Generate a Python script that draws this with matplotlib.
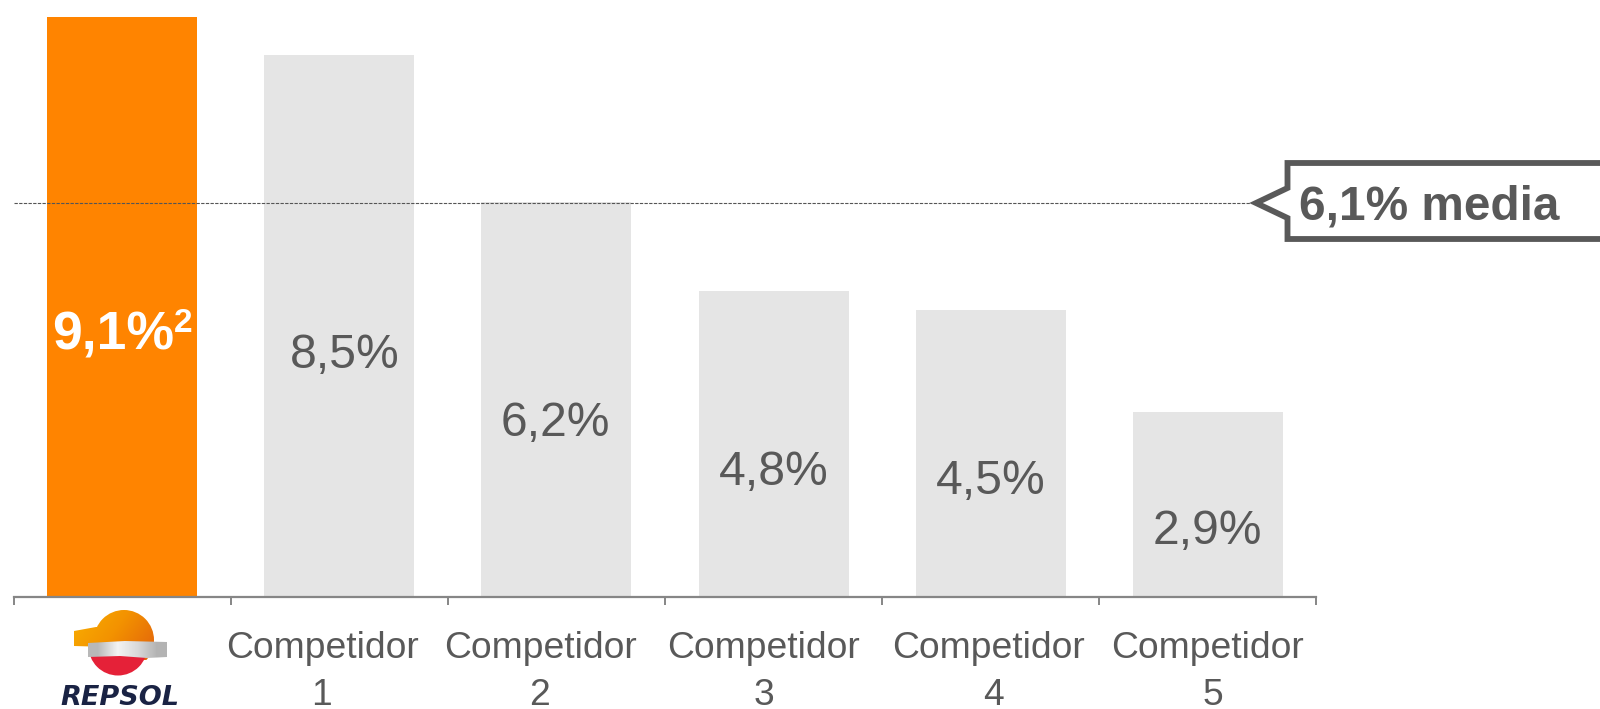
import matplotlib
matplotlib.use('Agg')
import matplotlib.pyplot as plt
import numpy as np
from matplotlib.patches import Circle, Polygon

plt.rcParams['font.family'] = ['Liberation Sans', 'DejaVu Sans']

cat_names = ['', 'Competidor', 'Competidor', 'Competidor', 'Competidor', 'Competidor']
cat_numbers = ['', '1', '2', '3', '4', '5']
values = [9.1, 8.5, 6.2, 4.8, 4.5, 2.9]
value_labels = ['9,1%', '8,5%', '6,2%', '4,8%', '4,5%', '2,9%']
footnote = '2'
mean_value = 6.18
mean_label = '6,1% media'

# small nudges in pixels, the labels are not centred in the original
label_dx = [0, 6, -1, 0, 0, -1]
label_dy = [-28, -29, -24, -28, -28, -27]
name_dx = [0, -17, -16, -10, -2, 0]
num_dx = [0, -18, -17, -10, 3, 5]

GREY = '#595959'
W, H = 1600, 709
px = 0.72  # pixels to points at dpi 100

fig = plt.figure(figsize=(16, 7.09), dpi=100)

# axes box set so that the bars land on the same pixels as the original
x0, x1, y0, y1 = 13.5, 1316.5, 597, 17
ax = fig.add_axes([x0/W, 1-y0/H, (x1-x0)/W, (y0-y1)/H])
x = np.arange(len(values))
colors = ['#FF8400'] + ['#E5E5E5']*5
ax.bar(x, values, width=0.69, color=colors, zorder=1)
ax.set_xlim(-0.5, 5.5)
ax.set_ylim(0, 9.1)
ax.patch.set_alpha(0)
for s in ['top', 'left', 'right']:
    ax.spines[s].set_visible(False)
ax.spines['bottom'].set_color('#868686')
ax.spines['bottom'].set_linewidth(1.6)
ax.set_yticks([])
ax.set_xticks(np.arange(-0.5, 6, 1))
ax.set_xticklabels([])
ax.tick_params(axis='x', length=6, width=1.4, color='#868686')

ax.plot([-0.5, 5.2], [mean_value, mean_value], color='#555555', lw=0.8,
        ls=(0, (3, 1.2)), zorder=3, clip_on=False)

for i in x:
    if i == 0:
        ax.annotate(value_labels[i], (i, values[i]/2), xytext=(-9*px, label_dy[i]*px),
                    textcoords='offset points', ha='center', va='center',
                    fontsize=38.5, fontweight='bold', color='white', zorder=4)
        ax.annotate(footnote, (i, values[i]/2), xytext=(61.5*px, (label_dy[i]+12)*px),
                    textcoords='offset points', ha='center', va='center',
                    fontsize=24, fontweight='bold', color='white', zorder=4)
    else:
        ax.annotate(value_labels[i], (i, values[i]/2), xytext=(label_dx[i]*px, label_dy[i]*px),
                    textcoords='offset points', ha='center', va='center',
                    fontsize=34.6, color=GREY, zorder=4)
        ax.annotate(cat_names[i], (i, 0), xytext=(name_dx[i]*px, -34*px),
                    textcoords='offset points', ha='center', va='top',
                    fontsize=26.8, color=GREY)
        ax.annotate(cat_numbers[i], (i, 0), xytext=(num_dx[i]*px, -81*px),
                    textcoords='offset points', ha='center', va='top',
                    fontsize=26.8, color=GREY)

# overlay in pixel coordinates for the callout and the logo
ov = fig.add_axes([0, 0, 1, 1])
ov.set_xlim(0, W)
ov.set_ylim(H, 0)
ov.axis('off')
ov.patch.set_alpha(0)

box = [(1610, 163), (1287.5, 163), (1287.5, 188), (1256, 203), (1287.5, 218), (1287.5, 239), (1610, 239)]
ov.add_patch(Polygon(box, closed=False, fc='white', ec=GREY, lw=4.2, joinstyle='miter'))
ov.text(1299, 207, mean_label, ha='left', va='center', fontsize=34.4, fontweight='bold', color=GREY)

# Repsol logo
grad = np.linspace(0, 1, 64)[None, :] + np.linspace(0, 0.5, 64)[:, None]
dome = Circle((124, 640), 30, transform=ov.transData)
tab = Polygon([(74, 631), (96, 627), (110, 627), (110, 647), (74, 646)], transform=ov.transData)
orange = matplotlib.colors.LinearSegmentedColormap.from_list('o', ['#F9B000', '#F39200', '#E2620C'])
for clip in [dome, tab]:
    im = ov.imshow(grad, extent=(74, 154, 660, 605), cmap=orange, aspect='auto', zorder=2, vmin=0, vmax=1.5)
    im.set_clip_path(clip)
red = Circle((118, 646), 29.5, transform=ov.transData)
im = ov.imshow(np.zeros((2, 2, 3)) + np.array([0.90, 0.13, 0.22]), extent=(85, 150, 677, 656),
               aspect='auto', zorder=2)
im.set_clip_path(red)
silver = np.array([[0.72, 0.95, 0.85, 0.70]])
band = Polygon([(88, 643), (125, 641), (167, 642), (167, 657), (147, 658), (120, 656), (88, 657)],
               transform=ov.transData)
im = ov.imshow(silver, extent=(88, 167, 658, 641), cmap='gray', vmin=0, vmax=1, aspect='auto',
               interpolation='bilinear', zorder=3)
im.set_clip_path(band)
ov.set_xlim(0, W)
ov.set_ylim(H, 0)
ov.text(120, 698, 'REPSOL', ha='center', va='center', fontsize=19.5, fontweight='bold',
        fontstyle='italic', color='#1A2344', family='DejaVu Sans')

fig.savefig('out.png', dpi=100)
